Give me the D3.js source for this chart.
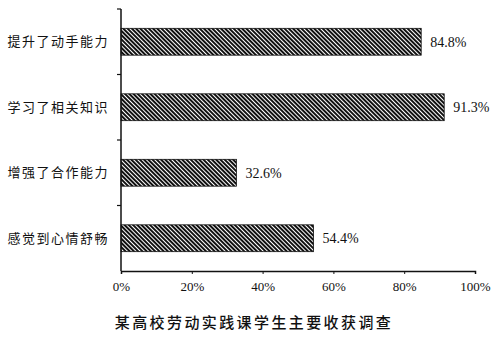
<!DOCTYPE html>
<html>
<head>
<meta charset="utf-8">
<script src="https://cdn.jsdelivr.net/npm/d3@7"></script>
<style>
  body { margin: 0; background: #fff; }
  svg { display: block; }
</style>
</head>
<body>
<svg id="chart"></svg>
<script>
// DATA
var categories = ["提升了动手能力", "学习了相关知识", "增强了合作能力", "感觉到心情舒畅"];
var values = [84.8, 91.3, 32.6, 54.4];
var tickValues = [0, 20, 40, 60, 80, 100];
var title = "某高校劳动实践课学生主要收获调查";

// SIZES
var width = 500;
var height = 338;
var margin = {top: 9, right: 25, bottom: 67, left: 121};

var svg = d3.select("#chart")
  .attr("width", width)
  .attr("height", height);

// hatch pattern
var defs = svg.append("defs");
var pattern = defs.append("pattern")
  .attr("id", "hatch")
  .attr("patternUnits", "userSpaceOnUse")
  .attr("width", 3)
  .attr("height", 3)
  .attr("patternTransform", "rotate(-45)");
pattern.append("rect")
  .attr("width", 3).attr("height", 3).attr("fill", "#fff");
pattern.append("rect")
  .attr("x", 0).attr("y", 0)
  .attr("width", 2).attr("height", 3)
  .attr("fill", "#111");

// Scales
var xScale = d3.scaleLinear()
  .domain([0, 100])
  .range([margin.left, width - margin.right]);

var yScale = d3.scaleBand()
  .domain(categories)
  .range([margin.top, height - margin.bottom])
  .paddingInner(0.59)
  .paddingOuter(0.295);

// Bars
svg.append("g")
  .attr("id", "bars")
  .selectAll("rect")
  .data(categories)
  .join("rect")
  .attr("x", xScale(0))
  .attr("y", (d) => yScale(d))
  .attr("width", (d, i) => xScale(values[i]) - xScale(0))
  .attr("height", yScale.bandwidth())
  .attr("fill", "url(#hatch)")
  .attr("stroke", "#111")
  .attr("stroke-width", 0.8);

// Value labels
svg.append("g")
  .selectAll("text")
  .data(categories)
  .join("text")
  .attr("x", (d, i) => xScale(values[i]) + 9)
  .attr("y", (d) => yScale(d) + yScale.bandwidth() / 2)
  .attr("dy", "0.35em")
  .attr("font-family", "'Liberation Serif', serif")
  .attr("font-size", 14)
  .attr("fill", "#111")
  .text((d, i) => values[i].toFixed(1) + "%");

// Category labels
svg.append("g")
  .selectAll("text")
  .data(categories)
  .join("text")
  .attr("x", margin.left - 12)
  .attr("y", (d) => yScale(d) + yScale.bandwidth() / 2)
  .attr("dy", "0.35em")
  .attr("text-anchor", "end")
  .attr("font-family", "'Noto Sans CJK SC', sans-serif")
  .attr("font-size", 13)
  .attr("letter-spacing", 1.5)
  .attr("fill", "#111")
  .text((d) => d);

// X Axis
var xAxis = d3.axisBottom(xScale)
  .tickValues(tickValues)
  .tickSize(3)
  .tickFormat((d) => d + "%");

var xAxisG = svg.append("g")
  .attr("transform", "translate(0," + (height - margin.bottom) + ")")
  .call(xAxis);
xAxisG.select(".domain").attr("stroke", "#111").attr("stroke-width", 1.5);
xAxisG.selectAll(".tick line").attr("stroke", "#111");
xAxisG.selectAll(".tick text")
  .attr("font-family", "'Liberation Serif', serif")
  .attr("font-size", 13)
  .attr("fill", "#111")
  .attr("dy", "1.1em");

// Y Axis with ticks at band boundaries
var yAxisG = svg.append("g");
yAxisG.append("line")
  .attr("x1", xScale(0)).attr("x2", xScale(0))
  .attr("y1", margin.top).attr("y2", height - margin.bottom)
  .attr("stroke", "#111")
  .attr("stroke-width", 1.5);

var half = yScale.step() * yScale.paddingInner() / 2;
var boundaries = [margin.top].concat(categories.slice(1).map((d) => yScale(d) - half));
yAxisG.selectAll(".ytick")
  .data(boundaries)
  .join("line")
  .attr("class", "ytick")
  .attr("x1", xScale(0) - 4).attr("x2", xScale(0))
  .attr("y1", (d) => d).attr("y2", (d) => d)
  .attr("stroke", "#111")
  .attr("stroke-width", 1.2);

// Title
svg.append("text")
  .attr("x", 254)
  .attr("y", 328)
  .attr("text-anchor", "middle")
  .attr("font-family", "'Noto Sans CJK SC', sans-serif")
  .attr("font-size", 15)
  .attr("font-weight", 500)
  .attr("letter-spacing", 2.4)
  .attr("fill", "#111")
  .text(title);
</script>
</body>
</html>
